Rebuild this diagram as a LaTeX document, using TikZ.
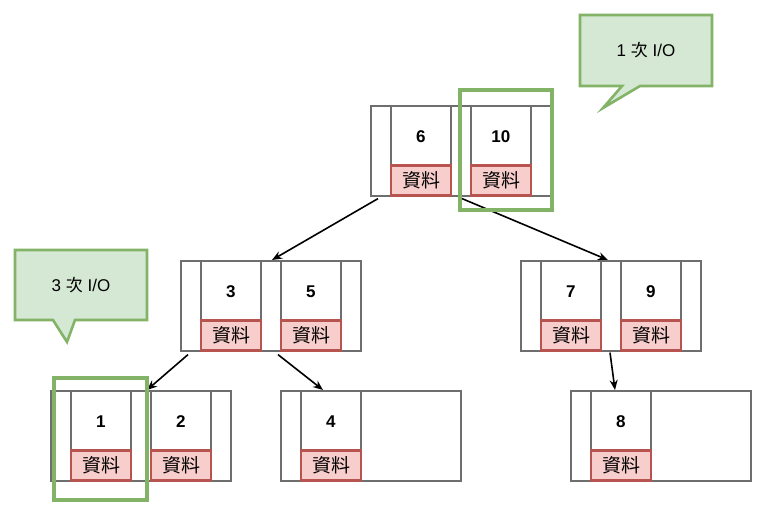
\documentclass[tikz,border=0pt]{standalone}
\usepackage{fontspec}
\setmainfont{Liberation Sans}
\newfontfamily\cjk{Noto Sans CJK TC}
\usetikzlibrary{arrows.meta,positioning}
\definecolor{Gy}{RGB}{110,110,110}
\definecolor{Rf}{RGB}{248,206,204}
\definecolor{Rd}{RGB}{184,84,80}
\definecolor{Gf}{RGB}{213,232,212}
\definecolor{Gd}{RGB}{130,179,102}

\tikzset{
  outer/.style={draw=Gy, line width=1.6pt, minimum width=180pt, minimum height=90pt, inner sep=0pt, anchor=north west},
  keycell/.style={draw=Gy, line width=1.6pt, fill=white, minimum width=60pt, minimum height=90pt, inner sep=0pt, anchor=north west},
  databox/.style={draw=Rd, fill=Rf, line width=2.4pt, minimum width=60pt, minimum height=30pt, inner sep=0pt, anchor=south west, font=\cjk\fontsize{19}{21}\selectfont},
  keytext/.style={font=\bfseries\fontsize{17}{19}\selectfont},
  ptr/.style={-{Stealth[length=10pt,width=8pt]}, line width=1.6pt},
  hilite/.style={draw=Gd, line width=4pt},
  callout/.style={draw=Gd, fill=Gf, line width=2.6pt},
  calltext/.style={font=\fontsize{17}{19}\selectfont},
}

% una celda con su clave y su caja de datos
\newcommand{\keyslot}[4]{%
  \node[keycell] (#1) at ([xshift=#3pt]#2.north west) {};
  \node[databox] (#1-d) at (#1.south west) {資料};
  \node[keytext] (#1-t) at ([yshift=-32pt]#1.north) {#4};
}

\begin{document}
\begin{tikzpicture}[x=1pt,y=-1pt]
  \useasboundingbox (0,0) rectangle (781,521);

  %Raiz
  \node[outer] (top) at (370,105) {};
  \keyslot{c6}{top}{20}{6}
  \keyslot{c10}{top}{100}{10}

  %Segundo nivel
  \node[outer] (midL) at (180,260) {};
  \keyslot{c3}{midL}{20}{3}
  \keyslot{c5}{midL}{100}{5}
  \node[outer] (midR) at (520,260) {};
  \keyslot{c7}{midR}{20}{7}
  \keyslot{c9}{midR}{100}{9}

  %Hojas
  \node[outer] (botA) at (50,390) {};
  \keyslot{c1}{botA}{20}{1}
  \keyslot{c2}{botA}{100}{2}
  \node[outer] (botB) at (280,390) {};
  \keyslot{c4}{botB}{20}{4}
  \node[outer] (botC) at (570,390) {};
  \keyslot{c8}{botC}{20}{8}

  %Punteros
  \draw[ptr] ([xshift=8pt,yshift=-2pt]top.south west) -- ([xshift=92pt]midL.north west);
  \draw[ptr] ([xshift=92pt,yshift=-2pt]top.south west) -- ([xshift=88pt]midR.north west);
  \draw[ptr] ([xshift=8pt,yshift=-3pt]midL.south west) -- ([xshift=97pt]botA.north west);
  \draw[ptr] ([xshift=98pt,yshift=-3pt]midL.south west) -- ([xshift=43pt]botB.north west);
  \draw[ptr] ([xshift=90pt,yshift=-1pt]midR.south west) -- ([xshift=45pt]botC.north west);

  %Recorridos marcados
  \draw[hilite] (460,90) rectangle (552,210);
  \draw[hilite] (54,378) rectangle (147,500);

  %Globos
  \draw[callout] (580,15) -- (712,15) -- (712,86) -- (640,86) -- (603,108) -- (622,86) -- (580,86) -- cycle;
  \node[calltext] (io1) at (646,50) {1 {\cjk 次} I/O};
  \draw[callout] (15,250) -- (147,250) -- (147,320) -- (75,320) -- (67,342) -- (53,320) -- (15,320) -- cycle;
  \node[calltext] (io3) at (81,285) {3 {\cjk 次} I/O};
\end{tikzpicture}
\end{document}
